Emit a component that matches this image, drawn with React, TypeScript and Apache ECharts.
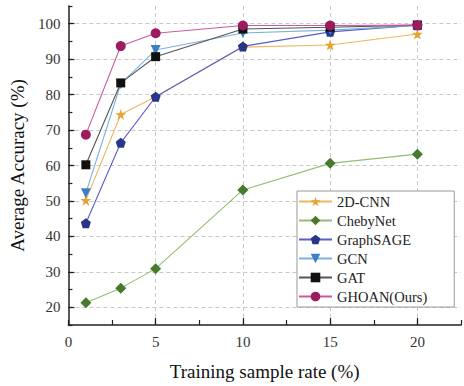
import React, { useEffect, useRef } from "react";
import * as echarts from "echarts";

const xValues = [1, 3, 5, 10, 15, 20];
const cnn2d = [50.2, 74.4, 79.4, 93.4, 94.0, 97.1];
const chebyNet = [21.3, 25.4, 30.9, 53.1, 60.6, 63.2];
const graphSage = [43.7, 66.4, 79.4, 93.6, 97.7, 99.6];
const gcn = [52.2, 83.0, 92.6, 97.4, 98.2, 99.5];
const gat = [60.2, 83.3, 90.7, 98.5, 99.0, 99.6];
const ghoan = [68.7, 93.7, 97.3, 99.5, 99.5, 99.6];

const yTicks = [20, 30, 40, 50, 60, 70, 80, 90, 100];
const xTicks = [0, 5, 10, 15, 20];

const FONT = "Liberation Serif";

const STAR = "path://M0,-1 L0.2245,-0.309 L0.951,-0.309 L0.363,0.118 L0.588,0.809 L0,0.382 L-0.588,0.809 L-0.363,0.118 L-0.951,-0.309 L-0.2245,-0.309 Z";
const PENTA = "path://M0,-1 L0.951,-0.309 L0.588,0.809 L-0.588,0.809 L-0.951,-0.309 Z";
const TRI_DOWN = "path://M-1,-0.8 L1,-0.8 L0,0.9 Z";

const seriesDefs = [
  { name: "2D-CNN", data: cnn2d, symbol: STAR, size: 11, mc: "#E5A332", lc: "#EDB860" },
  { name: "ChebyNet", data: chebyNet, symbol: "diamond", size: 11, mc: "#467A2C", lc: "#93BD72" },
  { name: "GraphSAGE", data: graphSage, symbol: PENTA, size: 10, mc: "#2A3587", lc: "#5A5DCB" },
  { name: "GCN", data: gcn, symbol: TRI_DOWN, size: 10, mc: "#3E7EC4", lc: "#7DB0DD" },
  { name: "GAT", data: gat, symbol: "rect", size: 9, mc: "#111111", lc: "#555555" },
  { name: "GHOAN(Ours)", data: ghoan, symbol: "circle", size: 10, mc: "#9A1B5E", lc: "#CB5A9D" },
];

export default function App() {
  const ref = useRef<HTMLDivElement>(null);
  useEffect(() => {
    document.body.style.margin = "0";
    const chart = echarts.init(ref.current!, null, { renderer: "svg" });
    const axisCommon = {
      type: "value" as const,
      axisLine: { show: true, lineStyle: { color: "#222", width: 1.5 } },
    };
    chart.setOption({
      animation: false,
      textStyle: { fontFamily: FONT },
      grid: { left: 67, top: 6, right: 3, bottom: 55, containLabel: false },
      xAxis: [
        {
          ...axisCommon,
          min: 0,
          max: 22.5,
          interval: 2.5,
          axisTick: { show: true, inside: true, length: 5, lineStyle: { color: "#222", width: 1.2 } },
          axisLabel: {
            fontSize: 15,
            color: "#333",
            fontFamily: FONT,
            margin: 9,
            formatter: (v: number) => (xTicks.includes(v) ? String(v) : ""),
          },
          splitLine: { show: false },
          name: "Training sample rate (%)",
          nameLocation: "middle",
          nameGap: 37,
          nameTextStyle: { fontSize: 19, color: "#111", fontFamily: FONT },
        },
        {
          type: "value",
          position: "bottom",
          min: 0,
          max: 22.5,
          interval: 2.5,
          axisLine: { show: false },
          axisTick: { show: true, inside: true, length: 7, customValues: [5, 10, 15, 20], lineStyle: { color: "#222", width: 1.2 } },
          axisLabel: { show: false },
          splitLine: { show: true, lineStyle: { color: "#c8c8c8", type: [4, 3], width: 1 } },
        },
      ],
      yAxis: [
        {
          ...axisCommon,
          min: 15,
          max: 105,
          interval: 5,
          axisTick: { show: true, inside: true, length: 4, lineStyle: { color: "#222", width: 1.2 } },
          axisLabel: {
            fontSize: 15,
            color: "#333",
            fontFamily: FONT,
            margin: 8,
            formatter: (v: number) => (yTicks.includes(v) ? String(v) : ""),
          },
          splitLine: { show: false },
          name: "Average Accuracy (%)",
          nameLocation: "middle",
          nameGap: 31,
          nameTextStyle: { fontSize: 19, color: "#111", fontFamily: FONT },
        },
        {
          type: "value",
          position: "left",
          min: 15,
          max: 105,
          interval: 5,
          axisLine: { show: false },
          axisTick: { show: true, inside: true, length: 6, customValues: yTicks, lineStyle: { color: "#222", width: 1.2 } },
          axisLabel: { show: false },
          splitLine: { show: true, lineStyle: { color: "#c8c8c8", type: [4, 3], width: 1 } },
        },
      ],
      legend: {
        orient: "vertical",
        left: 297,
        bottom: 79,
        padding: [3, 27, 3, 1],
        itemGap: 4,
        itemWidth: 33,
        itemHeight: 12,
        borderColor: "#999",
        borderWidth: 1,
        backgroundColor: "#fff",
        textStyle: { fontSize: 14.5, lineHeight: 12, color: "#222", fontFamily: FONT },
        data: seriesDefs.map((s) => s.name),
      },
      series: seriesDefs.map((s) => ({
        name: s.name,
        type: "line",
        xAxisIndex: 0,
        yAxisIndex: 0,
        data: xValues.map((x, i) => [x, s.data[i]]),
        symbol: s.symbol,
        symbolSize: s.size,
        itemStyle: { color: s.mc },
        lineStyle: { color: s.lc, width: 1.1 },
      })),
    });
    return () => chart.dispose();
  }, []);
  return <div ref={ref} style={{ width: 464, height: 386 }} />;
}
